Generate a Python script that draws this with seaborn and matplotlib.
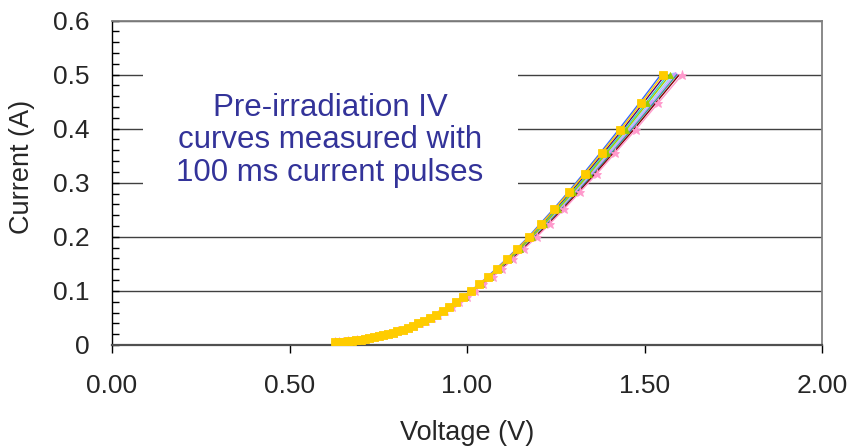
import matplotlib
matplotlib.use("Agg")
import matplotlib.pyplot as plt
import pandas as pd
import seaborn as sns
from matplotlib.patches import Rectangle
from matplotlib.ticker import MultipleLocator

# Pulse currents (A), 20 steps per decade, common to every device
current = [0.5, 0.447, 0.398, 0.355, 0.316, 0.282, 0.251, 0.224, 0.2, 0.178,
           0.159, 0.141, 0.126, 0.112, 0.1, 0.0891, 0.0794, 0.0708, 0.0631, 0.0562,
           0.0501, 0.0447, 0.0398, 0.0355, 0.0316, 0.0282, 0.0251, 0.0224, 0.02, 0.0178,
           0.0159, 0.0141, 0.0126, 0.0112, 0.01, 0.00891, 0.00794, 0.00708, 0.00631, 0.00562,
           0.00501]

# Measured forward voltage (V) for each device
v_dev1 = [1.546, 1.485, 1.427, 1.375, 1.327, 1.284, 1.243, 1.206, 1.173, 1.140,
          1.111, 1.082, 1.057, 1.033, 1.010, 0.988, 0.968, 0.948, 0.930, 0.912,
          0.895, 0.879, 0.863, 0.848, 0.833, 0.819, 0.804, 0.791, 0.777, 0.764,
          0.751, 0.738, 0.725, 0.712, 0.700, 0.688, 0.676, 0.664, 0.652, 0.640, 0.628]
v_dev2 = [1.552, 1.490, 1.432, 1.379, 1.331, 1.287, 1.246, 1.209, 1.175, 1.142,
          1.113, 1.084, 1.059, 1.034, 1.011, 0.989, 0.969, 0.949, 0.931, 0.913,
          0.896, 0.879, 0.863, 0.848, 0.833, 0.819, 0.804, 0.791, 0.777, 0.764,
          0.751, 0.738, 0.725, 0.712, 0.700, 0.688, 0.676, 0.664, 0.652, 0.640, 0.628]
v_dev3 = [1.559, 1.496, 1.438, 1.384, 1.335, 1.291, 1.250, 1.212, 1.178, 1.144,
          1.115, 1.086, 1.061, 1.036, 1.012, 0.990, 0.970, 0.950, 0.932, 0.914,
          0.897, 0.880, 0.864, 0.849, 0.834, 0.819, 0.804, 0.791, 0.777, 0.764,
          0.751, 0.738, 0.725, 0.712, 0.700, 0.688, 0.676, 0.664, 0.652, 0.640, 0.628]
v_dev4 = [1.566, 1.503, 1.443, 1.389, 1.340, 1.295, 1.253, 1.215, 1.181, 1.147,
          1.117, 1.088, 1.063, 1.037, 1.014, 0.991, 0.971, 0.951, 0.933, 0.915,
          0.897, 0.880, 0.864, 0.849, 0.834, 0.820, 0.805, 0.792, 0.778, 0.764,
          0.751, 0.738, 0.725, 0.712, 0.700, 0.688, 0.676, 0.664, 0.652, 0.640, 0.628]
v_dev5 = [1.572, 1.508, 1.448, 1.393, 1.344, 1.298, 1.256, 1.218, 1.183, 1.149,
          1.119, 1.090, 1.064, 1.038, 1.015, 0.993, 0.972, 0.952, 0.934, 0.915,
          0.898, 0.881, 0.865, 0.849, 0.834, 0.820, 0.805, 0.792, 0.778, 0.764,
          0.751, 0.738, 0.725, 0.712, 0.700, 0.688, 0.676, 0.664, 0.652, 0.640, 0.628]
v_dev6 = [1.579, 1.514, 1.453, 1.398, 1.348, 1.302, 1.260, 1.221, 1.186, 1.152,
          1.122, 1.092, 1.066, 1.040, 1.016, 0.994, 0.973, 0.953, 0.934, 0.916,
          0.899, 0.881, 0.865, 0.850, 0.835, 0.821, 0.805, 0.792, 0.778, 0.765,
          0.752, 0.739, 0.726, 0.713, 0.700, 0.688, 0.676, 0.664, 0.652, 0.640, 0.628]
v_dev7 = [1.585, 1.520, 1.458, 1.402, 1.352, 1.306, 1.263, 1.224, 1.188, 1.154,
          1.123, 1.093, 1.067, 1.041, 1.018, 0.995, 0.974, 0.954, 0.935, 0.917,
          0.899, 0.882, 0.866, 0.850, 0.835, 0.821, 0.806, 0.792, 0.778, 0.765,
          0.752, 0.739, 0.726, 0.713, 0.701, 0.688, 0.676, 0.664, 0.652, 0.640, 0.628]
v_dev8 = [1.591, 1.525, 1.463, 1.407, 1.356, 1.309, 1.266, 1.226, 1.191, 1.156,
          1.125, 1.095, 1.069, 1.043, 1.019, 0.996, 0.975, 0.955, 0.936, 0.917,
          0.900, 0.882, 0.866, 0.851, 0.835, 0.821, 0.806, 0.793, 0.779, 0.765,
          0.752, 0.739, 0.726, 0.713, 0.701, 0.689, 0.676, 0.664, 0.652, 0.640, 0.628]
v_dev9 = [1.598, 1.531, 1.469, 1.412, 1.360, 1.313, 1.269, 1.230, 1.193, 1.158,
          1.128, 1.097, 1.071, 1.044, 1.020, 0.997, 0.976, 0.956, 0.937, 0.918,
          0.901, 0.883, 0.867, 0.851, 0.836, 0.822, 0.806, 0.793, 0.779, 0.766,
          0.752, 0.739, 0.726, 0.713, 0.701, 0.689, 0.677, 0.664, 0.652, 0.640, 0.628]
v_dev10 = [1.606, 1.538, 1.475, 1.417, 1.365, 1.317, 1.273, 1.233, 1.197, 1.161,
           1.130, 1.099, 1.073, 1.046, 1.022, 0.999, 0.978, 0.957, 0.938, 0.919,
           0.901, 0.884, 0.867, 0.852, 0.836, 0.822, 0.807, 0.793, 0.779, 0.766,
           0.753, 0.740, 0.726, 0.713, 0.701, 0.689, 0.677, 0.665, 0.652, 0.640, 0.628]

devices = ["D1", "D2", "D3", "D4", "D5", "D6", "D7", "D8", "D9", "D10"]
voltages = [v_dev1, v_dev2, v_dev3, v_dev4, v_dev5, v_dev6, v_dev7, v_dev8, v_dev9, v_dev10]

x_ticks = [0.0, 0.5, 1.0, 1.5, 2.0]
x_tick_labels = ["0.00", "0.50", "1.00", "1.50", "2.00"]
y_ticks = [0.0, 0.1, 0.2, 0.3, 0.4, 0.5, 0.6]
y_tick_labels = ["0", "0.1", "0.2", "0.3", "0.4", "0.5", "0.6"]

note = "Pre-irradiation IV\ncurves measured with\n100 ms current pulses"

# Long-form table for seaborn
frames = []
for name, v in zip(devices, voltages):
    frames.append(pd.DataFrame({"Voltage": v, "Current": current, "Device": name}))
df = pd.concat(frames, ignore_index=True)

# Per-device line styling: colour, marker, marker size, drawing order
styles = {
    "D1": ("#3366FF", None, 0, 2.0),
    "D2": ("#FFCC00", "s", 5.2, 6.0),
    "D3": ("#660066", None, 0, 2.1),
    "D4": ("#33CCCC", None, 0, 2.2),
    "D5": ("#99CC00", "^", 5.0, 5.0),
    "D6": ("#99CCFF", "o", 3.5, 2.3),
    "D7": ("#CC99FF", "D", 3.2, 2.4),
    "D8": ("#339999", None, 0, 2.5),
    "D9": ("#800000", None, 0, 2.6),
    "D10": ("#FF99CC", "*", 6.5, 2.7),
}

sns.set_style("white")
plt.rcParams["font.family"] = ["Liberation Sans", "DejaVu Sans"]

fig = plt.figure(figsize=(8.53, 4.47), dpi=100)
ax = fig.add_axes([0.1313, 0.2282, 0.8324, 0.7259])

for name in devices:
    color, marker, ms, z = styles[name]
    kw = dict(marker=marker, markersize=ms, markeredgewidth=0.6,
              markeredgecolor=color) if marker else {}
    sns.lineplot(data=df[df["Device"] == name], x="Voltage", y="Current",
                 color=color, linewidth=1.0, estimator=None, sort=False,
                 zorder=z, ax=ax, legend=False, **kw)

ax.set_xlim(0, 2.0)
ax.set_ylim(0, 0.6)

# Horizontal grid on the major current ticks
ax.set_axisbelow(True)
ax.yaxis.grid(True, color="#404040", linewidth=1.0)
ax.xaxis.grid(False)

# White panel behind the annotation hides part of the grid
ax.add_patch(Rectangle((0.0437, 0.477), 0.528, 0.375, transform=ax.transAxes,
                       facecolor="white", edgecolor="none", zorder=1.0))
ax.text(0.307, 0.631, note, transform=ax.transAxes, ha="center", va="center",
        multialignment="center", fontsize=22.5, color="#333399",
        linespacing=1.1, zorder=3)

ax.set_xticks(x_ticks)
ax.set_xticklabels(x_tick_labels)
ax.set_yticks(y_ticks)
ax.set_yticklabels(y_tick_labels)
ax.yaxis.set_minor_locator(MultipleLocator(0.02))

ax.tick_params(axis="x", which="major", direction="out", length=6, width=1,
               color="black", labelsize=19, pad=15, bottom=True)
ax.tick_params(axis="y", which="major", direction="in", length=5, width=1,
               color="black", labelsize=19, pad=16, left=True)
ax.tick_params(axis="y", which="minor", direction="in", length=5, width=1,
               color="black", left=True)

ax.set_xlabel("Voltage (V)", fontsize=19.5, labelpad=16)
ax.set_ylabel("Current (A)", fontsize=19.5)
ax.yaxis.set_label_coords(-0.1085, 0.548)

for side in ["top", "right"]:
    ax.spines[side].set_color("#808080")
    ax.spines[side].set_linewidth(1.3)
ax.spines["left"].set_color("black")
ax.spines["left"].set_linewidth(1.0)
ax.spines["bottom"].set_color("#505050")
ax.spines["bottom"].set_linewidth(1.6)

fig.savefig("out.png", dpi=100, facecolor="white")
